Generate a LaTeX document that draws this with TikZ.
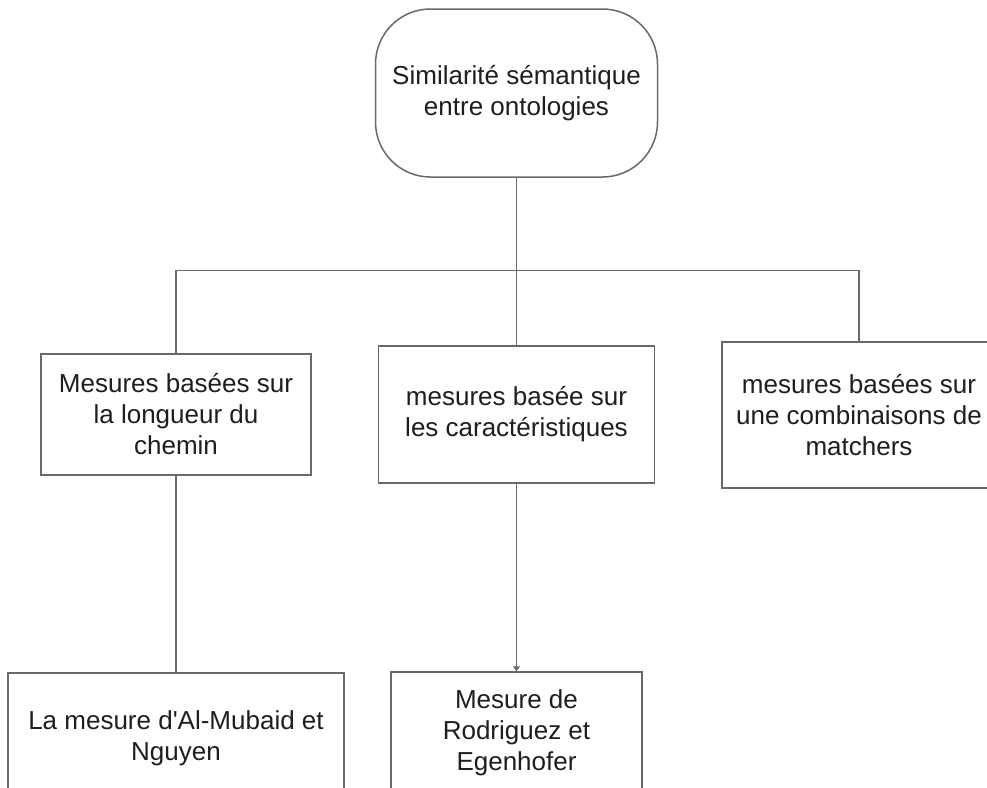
\documentclass[tikz,border=0pt]{standalone}
\usepackage{fontspec}
\setmainfont{Liberation Sans}
\usetikzlibrary{arrows.meta}
\definecolor{edgegray}{RGB}{105,105,105}
\definecolor{inkgray}{RGB}{30,30,30}
\begin{document}
\begin{tikzpicture}[x=1pt,y=-1pt,
  every node/.style={font=\fontsize{26}{31}\selectfont, text=inkgray, align=center, inner sep=0pt},
  box/.style={draw=edgegray, line width=1.5pt, fill=white},
  link/.style={draw=edgegray, line width=1.5pt},
  tip/.style={-{Triangle[width=7pt,length=5pt]}}]
\useasboundingbox (0,0) rectangle (987,787);
\fill[white] (0,0) rectangle (987,787);

% root node
\node[box, rounded corners=55pt, minimum width=282pt, minimum height=168pt] (top) at (516.5,93)
  {Similarité sémantique\\entre ontologies};

% first level
\node[box, minimum width=270pt, minimum height=121pt] (A) at (176,414.5)
  {Mesures basées sur\\la longueur du\\chemin};
\node[box, minimum width=276pt, minimum height=137pt] (B) at (516.5,414.5)
  {mesures basée sur\\les caractéristiques};
\node[box, minimum width=274pt, minimum height=146pt] (C) at (859,415)
  {mesures basées sur\\une combinaisons de\\matchers};

% second level
\node[box, minimum width=336pt, minimum height=130pt] (D) at (176,738)
  {La mesure d\textquotesingle Al-Mubaid et\\Nguyen};
\node[box, minimum width=251pt, minimum height=122pt] (E) at (516.5,733)
  {Mesure de\\Rodriguez et\\Egenhofer};

% connectors
\coordinate (j) at (516.5,270.5);
\draw[link] (top.south) -- (j);
\draw[link] (A.north) |- (j) -| (C.north);
\draw[link] (j) -- (B.north);
\draw[link] (A.south) -- (D.north);
\draw[link, tip] (B.south) -- (E.north);
\end{tikzpicture}
\end{document}
